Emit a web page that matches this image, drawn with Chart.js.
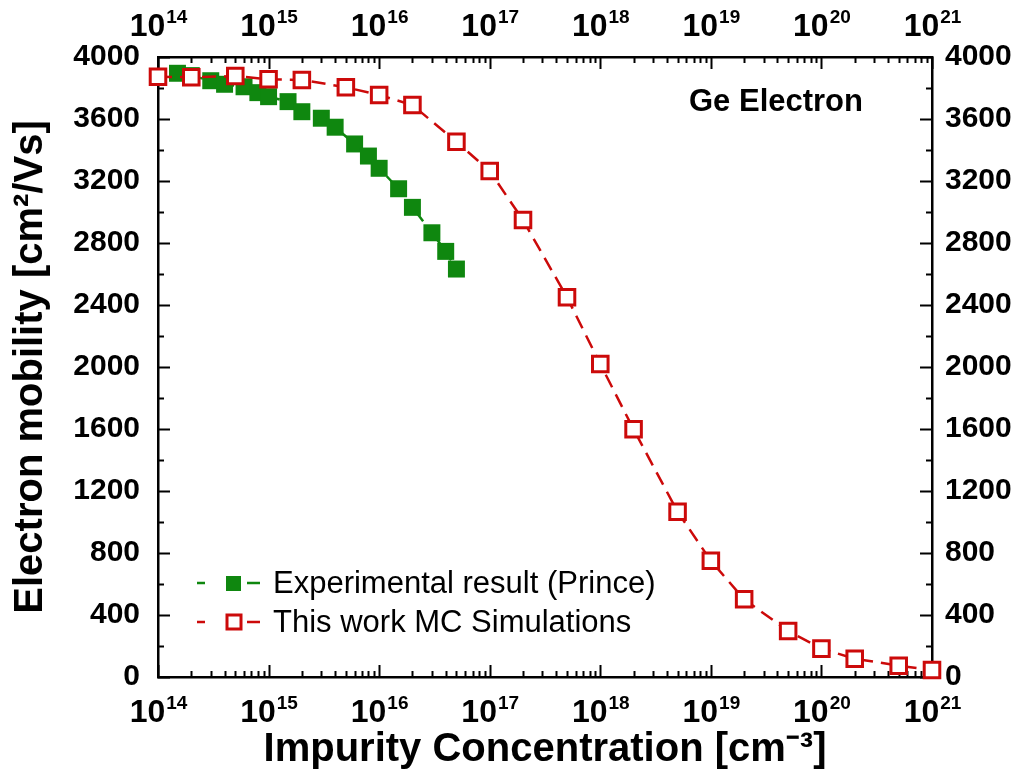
<!DOCTYPE html>
<html>
<head>
<meta charset="utf-8">
<script src="https://cdn.jsdelivr.net/npm/chart.js@4/dist/chart.umd.min.js"></script>
<style>
  html, body { margin: 0; padding: 0; background: #fff; }
  canvas { display: block; }
</style>
</head>
<body>
<canvas id="chart" width="1019" height="781"></canvas>
<script>
// ===== DATA =====

// Prince experimental data
const expConc = [1.5e14, 2e14, 3e14, 4e14, 6e14, 8e14, 1e15, 1.5e15, 2e15, 3e15, 4e15,
                 6e15, 8e15, 1e16, 1.5e16, 2e16, 3e16, 4e16, 5e16];
const expMobility = [3895, 3880, 3847, 3824, 3808, 3770, 3744, 3712, 3647, 3605, 3547,
                     3439, 3361, 3282, 3150, 3030, 2866, 2746, 2632];

// MC simulation data
const simConc = [1e14, 2e14, 5e14, 1e15, 2e15, 5e15, 1e16, 2e16, 5e16, 1e17, 2e17,
                 5e17, 1e18, 2e18, 5e18, 1e19, 2e19, 5e19, 1e20, 2e20, 5e20, 1e21];
const simMobility = [3873, 3869, 3877, 3856, 3852, 3805, 3755, 3690, 3453, 3264, 2948,
                     2450, 2019, 1598, 1066, 750, 501, 297, 183, 118, 73, 45];

// axis tick labels (10^n)
const decadeExps = [14, 15, 16, 17, 18, 19, 20, 21];

const FONT = "'Liberation Sans', Arial, sans-serif";
const GREEN = '#0f870f';
const RED = '#cc0a0a';

function toPoints(xs, ys) {
    return xs.map((x, i) => ({ x: x, y: ys[i] }));
}

// ===== PLUGINS =====

// inward tick marks on all four sides
const innerTicks = {
    id: 'innerTicks',
    beforeDatasetsDraw(chart) {
        const { ctx, chartArea: a, scales } = chart;
        ctx.save();
        ctx.strokeStyle = '#000';
        ctx.lineWidth = 2;
        const seg = (x1, y1, x2, y2) => {
            ctx.beginPath();
            ctx.moveTo(x1, y1);
            ctx.lineTo(x2, y2);
            ctx.stroke();
        };

        decadeExps.forEach((e, i) => {
            const marks = [[Math.pow(10, e), 12]];
            if (i < decadeExps.length - 1) {
                for (let m = 2; m <= 9; m++) marks.push([m * Math.pow(10, e), 6]);
            }
            marks.forEach(([v, len]) => {
                const px = Math.round(scales.x.getPixelForValue(v)) + 0.5;
                seg(px, a.bottom, px, a.bottom - len);
                seg(px, a.top, px, a.top + len);
            });
        });

        scales.y.ticks.forEach(t => {
            const py = Math.round(scales.y.getPixelForValue(t.value)) + 0.5;
            seg(a.left, py, a.left + 12, py);
            seg(a.right, py, a.right - 12, py);
            if (t.value < 4000) {
                const pm = Math.round(scales.y.getPixelForValue(t.value + 200)) + 0.5;
                seg(a.left, pm, a.left + 6, pm);
                seg(a.right, pm, a.right - 6, pm);
            }
        });
        ctx.restore();
    }
};

// 10^n labels on the top and bottom log axes
const powerLabels = {
    id: 'powerLabels',
    afterDraw(chart) {
        const { ctx, scales } = chart;
        ctx.save();
        ctx.fillStyle = '#000';
        ctx.textBaseline = 'alphabetic';
        ctx.textAlign = 'left';
        const baseFont = 'bold 32px ' + FONT;
        const supFont = 'bold 19px ' + FONT;

        decadeExps.forEach(e => {
            ctx.font = baseFont;
            const wBase = ctx.measureText('10').width;
            ctx.font = supFont;
            const wSup = ctx.measureText(String(e)).width;
            const cx = scales.x.getPixelForValue(Math.pow(10, e));
            const x0 = cx - (wBase + wSup) / 2;

            [722, 36].forEach(base => {
                ctx.font = baseFont;
                ctx.fillText('10', x0, base);
                ctx.font = supFont;
                ctx.fillText(String(e), x0 + wBase + 1, base - 13);
            });
        });
        ctx.restore();
    }
};

// legend with dashed line - marker - dashed line
const lineLegend = {
    id: 'lineLegend',
    afterDraw(chart) {
        const { ctx } = chart;
        ctx.save();
        const rows = [583, 622];
        chart.data.datasets.forEach((ds, i) => {
            const y = rows[i];
            ctx.strokeStyle = ds.borderColor;
            ctx.lineWidth = 2.5;
            ctx.beginPath();
            ctx.moveTo(197, y); ctx.lineTo(205, y);
            ctx.moveTo(247, y); ctx.lineTo(260, y);
            ctx.stroke();
            if (ds.pointBackgroundColor === '#fff') {
                ctx.fillStyle = '#fff';
                ctx.fillRect(227, y - 7, 14, 14);
                ctx.lineWidth = 3;
                ctx.strokeRect(227, y - 7, 14, 14);
            } else {
                ctx.fillStyle = ds.pointBackgroundColor;
                ctx.fillRect(226, y - 7, 15, 15);
            }
            ctx.fillStyle = '#000';
            ctx.font = '31px ' + FONT;
            ctx.textBaseline = 'middle';
            ctx.textAlign = 'left';
            ctx.fillText(ds.label, 273, y + 1);
        });

        ctx.font = 'bold 31px ' + FONT;
        ctx.textBaseline = 'middle';
        ctx.fillText('Ge Electron', 689, 102);
        ctx.restore();
    }
};

// ===== CHART =====

function fixedSize(prop, size) {
    return scale => { scale[prop] = size; };
}

const yTicks = {
    stepSize: 400,
    color: '#000',
    font: { family: FONT, size: 30, weight: 'bold' },
    callback: v => String(v)
};

new Chart(document.getElementById('chart'), {
    type: 'scatter',
    data: {
        datasets: [{
            label: 'Experimental result (Prince)',
            data: toPoints(expConc, expMobility),
            showLine: true,
            borderColor: GREEN,
            borderWidth: 2.5,
            borderDash: [10, 6],
            pointStyle: 'rect',
            pointRadius: 12,
            pointBorderWidth: 0,
            pointBackgroundColor: GREEN,
            clip: false,
            order: 1
        }, {
            label: 'This work MC Simulations',
            data: toPoints(simConc, simMobility),
            showLine: true,
            borderColor: RED,
            borderWidth: 2.5,
            borderDash: [14, 8],
            pointStyle: 'rect',
            pointRadius: 11,
            pointBorderWidth: 3,
            pointBorderColor: RED,
            pointBackgroundColor: '#fff',
            clip: false,
            order: 0
        }]
    },
    options: {
        responsive: false,
        animation: false,
        layout: { padding: 0 },
        plugins: {
            legend: { display: false },
            tooltip: { enabled: false }
        },
        scales: {
            x: {
                type: 'logarithmic',
                position: 'bottom',
                min: 1e14,
                max: 1e21,
                ticks: { display: false },
                grid: { display: false },
                border: { display: true, color: '#000', width: 2.5 },
                title: {
                    display: true,
                    text: 'Impurity Concentration [cm⁻³]',
                    color: '#000',
                    font: { family: FONT, size: 40, weight: 'bold' },
                    padding: { top: 0, bottom: 7 }
                },
                afterFit: fixedSize('height', 104)
            },
            x2: {
                type: 'logarithmic',
                position: 'top',
                min: 1e14,
                max: 1e21,
                ticks: { display: false },
                grid: { display: false },
                border: { display: true, color: '#000', width: 2.5 },
                afterFit: fixedSize('height', 57)
            },
            y: {
                type: 'linear',
                position: 'left',
                min: 0,
                max: 4000,
                ticks: Object.assign({ padding: 18 }, yTicks),
                grid: { display: false, drawTicks: false },
                border: { display: true, color: '#000', width: 2.5 },
                title: {
                    display: true,
                    text: 'Electron mobility [cm²/Vs]',
                    color: '#000',
                    font: { family: FONT, size: 40, weight: 'bold' },
                    padding: { top: 7, bottom: 0 }
                },
                afterFit: fixedSize('width', 158)
            },
            y2: {
                type: 'linear',
                position: 'right',
                min: 0,
                max: 4000,
                ticks: Object.assign({ padding: 13 }, yTicks),
                grid: { display: false, drawTicks: false },
                border: { display: true, color: '#000', width: 2.5 },
                afterFit: fixedSize('width', 87)
            }
        }
    },
    plugins: [innerTicks, powerLabels, lineLegend]
});
</script>
</body>
</html>
